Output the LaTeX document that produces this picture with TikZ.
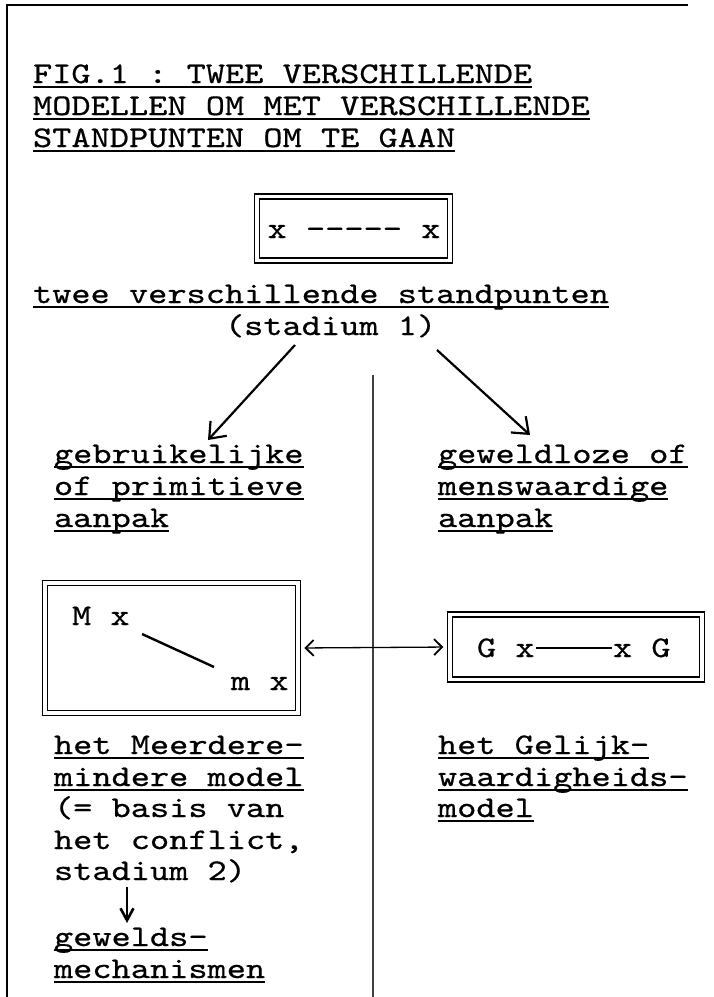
\documentclass[tikz,border=0pt]{standalone}
\usepackage{fontspec}
\setmonofont[FakeBold=0.5]{lmmono10-regular.otf}
\usepackage{graphicx}
\usetikzlibrary{arrows.meta}
\newcommand\stt[1]{\scalebox{1.219}[1]{#1}}
\newcommand\ulin[1]{\setbox0\hbox{\stt{#1}}\rlap{\rule[-4.5pt]{\wd0}{1.8pt}}\box0}
\begin{document}
\begin{tikzpicture}[x=1pt,y=-1pt,
  txt/.style={anchor=base west, inner sep=0pt, outer sep=0pt, font=\fontsize{30}{30}\selectfont\ttfamily},
  dbox/.style={draw, line width=1.3pt, double, double distance=3.7pt, inner sep=0pt},
  frameline/.style={line width=1.8pt},
  divline/.style={line width=1.1pt, draw=black!75},
  bigarrow/.style={line width=2.2pt, -{Straight Barb[length=14pt,width=22pt,line width=2.2pt]}},
  thinarrow/.style={line width=1.3pt, {Straight Barb[length=8pt,width=16pt,line width=1.8pt]}-{Straight Barb[length=8pt,width=16pt,line width=1.8pt]}},
  downarrow/.style={line width=2.2pt, -{Straight Barb[length=12pt,width=13pt,line width=2.6pt]}}
]
\useasboundingbox (0,0) rectangle (713,997);
\fill[white] (0,0) rectangle (713,997);

% outer frame (top and left) and divider
\coordinate (ftr) at (688,5);
\coordinate (ftl) at (7,5);
\coordinate (fbl) at (7,997);
\draw[frameline] (ftr) -- (ftl) -- (fbl);
\coordinate (dtop) at (373,375);
\coordinate (dbot) at (373,997);
\draw[divline] (dtop) -- (dbot);

% title
\node[txt] (t1) at (33,83) {\ulin{FIG.1 : TWEE VERSCHILLENDE}};
\node[txt] (t2) at (33,115) {\ulin{MODELLEN OM MET VERSCHILLENDE}};
\node[txt] (t3) at (33,147) {\ulin{STANDPUNTEN OM TE GAAN}};

% top box
\node[dbox, minimum width=193.5pt, minimum height=64pt] (box1) at (353.5,228.5) {};
\node[txt, anchor=base] (box1t) at (354,238) {\stt{x -{}-{}-{}-{}- x}};

\node[txt] (stand) at (33,303) {\ulin{twee verschillende standpunten}};
\node[txt] (stad1) at (225,335) {\stt{(stadium 1)}};

% arrows from stadium 1
\coordinate (la1) at (295,345);
\coordinate (la2) at (208,440);
\coordinate (ra1) at (437,350);
\coordinate (ra2) at (530,435);
\draw[bigarrow] (la1) -- (la2);
\draw[bigarrow] (ra1) -- (ra2);

% left column labels
\node[txt] (l1) at (54,463) {\ulin{gebruikelijke}};
\node[txt] (l2) at (54,495) {\ulin{of primitieve}};
\node[txt] (l3) at (54,527) {\ulin{aanpak}};

% right column labels
\node[txt] (r1) at (438,463) {\ulin{geweldloze of}};
\node[txt] (r2) at (438,495) {\ulin{menswaardige}};
\node[txt] (r3) at (438,527) {\ulin{aanpak}};

% M box
\node[dbox, minimum width=252.5pt, minimum height=129.5pt] (mbox) at (171.5,648) {};
\node[txt] (Mx) at (72,625) {\stt{M x}};
\node[txt] (mx) at (231,690) {\stt{m x}};
\coordinate (ml1) at (142,634);
\coordinate (ml2) at (214,667);
\draw[line width=2.4pt] (ml1) -- (ml2);

% G box
\node[dbox, minimum width=252pt, minimum height=65pt] (gbox) at (576,647) {};
\node[txt] (Gx) at (477,657) {\stt{G x}};
\node[txt] (xG) at (613,657) {\stt{x G}};
\draw[line width=1.6pt] ([shift={(1,-9)}]Gx.base east) -- ([shift={(-1,-9)}]xG.base west);

% double arrow between models
\draw[thinarrow, shorten <=6pt, shorten >=6pt] (mbox.east) -- (gbox.west);

% left lower texts
\node[txt] (m1) at (54,754) {\ulin{het Meerdere-}};
\node[txt] (m2) at (54,786) {\ulin{mindere model}};
\node[txt] (m3) at (54,817) {\stt{(= basis van}};
\node[txt] (m4) at (54,849) {\stt{het conflict,}};
\node[txt] (m5) at (54,880) {\stt{stadium 2)}};
\coordinate (da1) at (127,887);
\coordinate (da2) at (127,923);
\draw[downarrow] (da1) -- (da2);
\node[txt] (g1) at (54,946) {\ulin{gewelds-}};
\node[txt] (g2) at (54,978) {\ulin{mechanismen}};

% right lower texts
\node[txt] (e1) at (438,754) {\ulin{het Gelijk-}};
\node[txt] (e2) at (438,786) {\ulin{waardigheids-}};
\node[txt] (e3) at (438,817) {\ulin{model}};
\end{tikzpicture}
\end{document}
